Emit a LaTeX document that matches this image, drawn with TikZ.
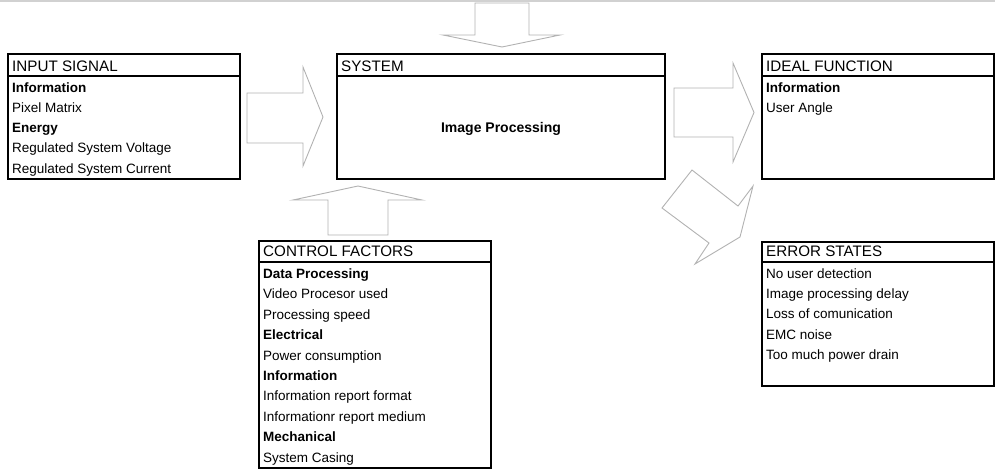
\documentclass[tikz,border=0pt]{standalone}
\usepackage{fontspec}
\setmainfont{Liberation Sans}
\begin{document}
\begin{tikzpicture}[x=1pt,y=-1pt,
  box/.style={draw=black, line width=1.3pt, inner sep=0pt, outer sep=0pt, fill=white},
  sep/.style={draw=black, line width=1.3pt},
  hdr/.style={anchor=base west, inner sep=0pt, font=\fontsize{15.2}{16}\selectfont},
  itm/.style={anchor=base west, inner sep=0pt, font=\fontsize{13.5}{15}\selectfont},
  bitm/.style={anchor=base west, inner sep=0pt, font=\fontsize{13.5}{15}\selectfont\bfseries},
  barrow/.style={draw=black!30, line width=0.9pt, fill=white, line join=miter}]
\useasboundingbox (0,0) rectangle (995,469);
\coordinate (tl) at (0,1);
\coordinate (tr) at (995,1);
\draw[black!18, line width=1.2pt] (tl) -- (tr);

% boxes
\node[box, minimum width=232pt, minimum height=125pt] (in) at (124,116.5) {};
\node[box, minimum width=328pt, minimum height=125pt] (sys) at (501,116.5) {};
\node[box, minimum width=232pt, minimum height=125pt] (ideal) at (878,116.5) {};
\node[box, minimum width=232pt, minimum height=227pt] (ctrl) at (375,354.5) {};
\node[box, minimum width=232pt, minimum height=144pt] (err) at (878,314) {};

\foreach \b/\h in {in/22, sys/22, ideal/22, ctrl/21, err/20}
  \draw[sep] ([yshift=-\h pt]\b.north west) -- ([yshift=-\h pt]\b.north east);

% block arrows
\draw[barrow] (247,93) -- (303,93) -- (303,67) -- (323,117) -- (303,166) -- (303,143) -- (247,143) -- cycle;
\draw[barrow] (674,88) -- (733,88) -- (733,63) -- (754,112.5) -- (733,162) -- (733,137) -- (674,137) -- cycle;
\draw[barrow] (475,3) -- (529,3) -- (529,35) -- (560,35) -- (502,47) -- (443,35) -- (475,35) -- cycle;
\draw[barrow] (328,235) -- (388,235) -- (388,200) -- (422,200) -- (358,186) -- (293,200) -- (328,200) -- cycle;
\draw[barrow] (692,170) -- (738,206) -- (753,186) -- (740,237) -- (695,264) -- (709,243) -- (662,208) -- cycle;

% input signal
\node[hdr] (inH) at (12,71) {INPUT SIGNAL};
\node[bitm] (in1) at (12,92.5) {Information};
\node[itm] (in2) at (12,112.5) {Pixel Matrix};
\node[bitm] (in3) at (12,132.5) {Energy};
\node[itm] (in4) at (12,152.5) {Regulated System Voltage};
\node[itm] (in5) at (12,173) {Regulated System Current};

% system
\node[hdr] (sysH) at (341,71) {SYSTEM};
\node[anchor=base, inner sep=0pt, font=\fontsize{14}{16}\selectfont\bfseries] (sys1) at (501,132.5) {Image Processing};

% ideal function
\node[hdr] (idH) at (766,71) {IDEAL FUNCTION};
\node[bitm] (id1) at (766,92.5) {Information};
\node[itm] (id2) at (766,112.5) {User Angle};

% control factors
\node[hdr] (cH) at (263,256) {CONTROL FACTORS};
\node[bitm] (c1) at (263,278.5) {Data Processing};
\node[itm] (c2) at (263,298.9) {Video Procesor used};
\node[itm] (c3) at (263,319.3) {Processing speed};
\node[bitm] (c4) at (263,339.7) {Electrical};
\node[itm] (c5) at (263,360.1) {Power consumption};
\node[bitm] (c6) at (263,380.5) {Information};
\node[itm] (c7) at (263,400.9) {Information report format};
\node[itm] (c8) at (263,421.3) {Informationr report medium};
\node[bitm] (c9) at (263,441.7) {Mechanical};
\node[itm] (c10) at (263,462.1) {System Casing};

% error states
\node[hdr] (eH) at (766,256.5) {ERROR STATES};
\node[itm] (e1) at (766,278) {No user detection};
\node[itm] (e2) at (766,298.4) {Image processing delay};
\node[itm] (e3) at (766,318.8) {Loss of comunication};
\node[itm] (e4) at (766,339.2) {EMC noise};
\node[itm] (e5) at (766,359.6) {Too much power drain};
\end{tikzpicture}
\end{document}
